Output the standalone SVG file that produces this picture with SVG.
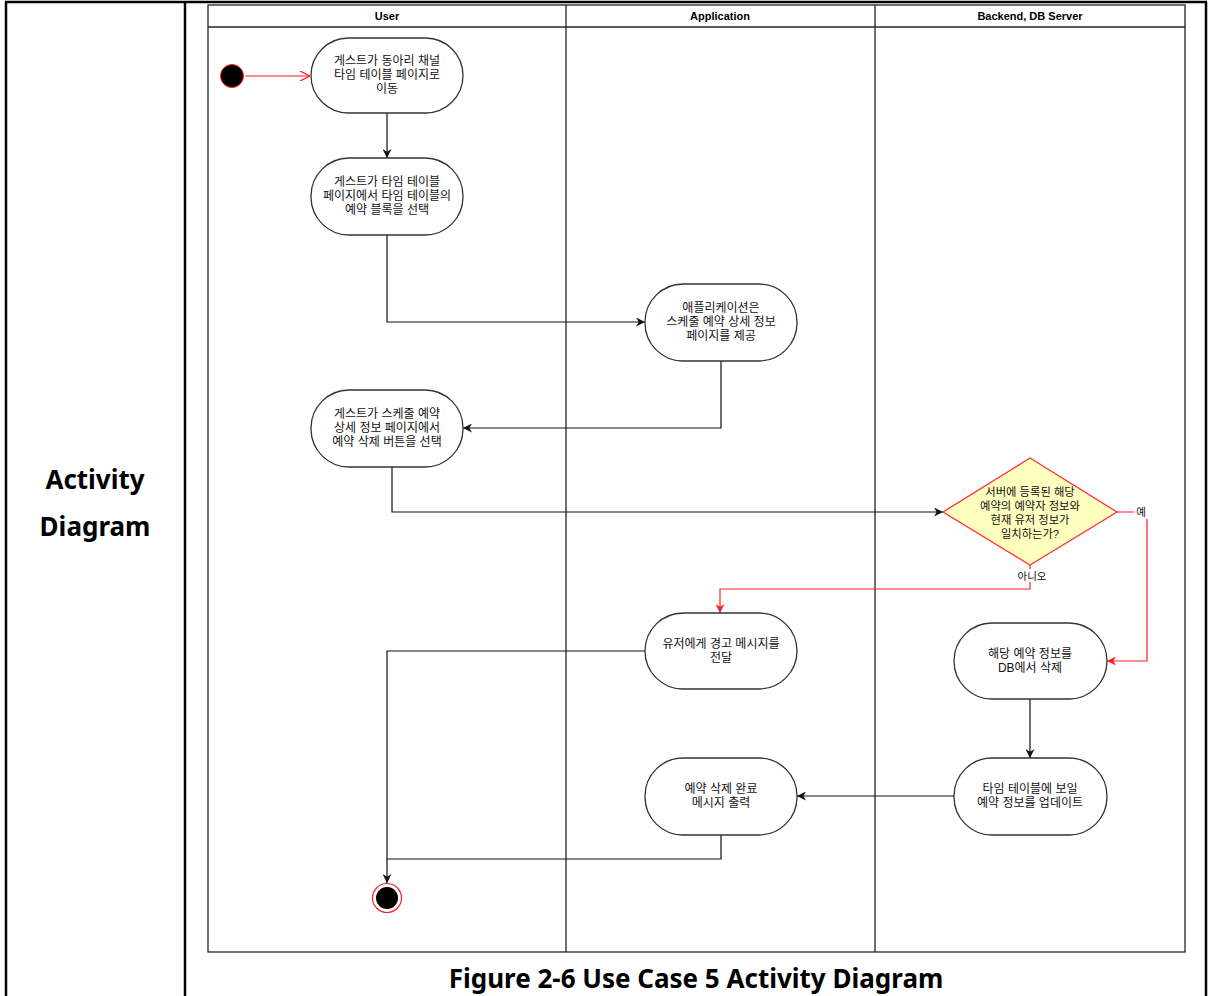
<svg xmlns="http://www.w3.org/2000/svg" width="1208" height="996" viewBox="0 0 1208 996">
  <defs>
    <style>
      .tbl { stroke: #000; stroke-width: 2.5; fill: none; }
      .lane { stroke: #222; stroke-width: 1.3; fill: none; }
      .hdr { font-family: "Liberation Sans", Arial, sans-serif; font-weight: bold; font-size: 11px; fill: #000; text-anchor: middle; }
      .act { fill: #fff; stroke: #333; stroke-width: 1.3; }
      .lbl { font-family: "Liberation Sans", "Noto Sans CJK KR", sans-serif; font-size: 12px; fill: #111; text-anchor: middle; }
      .dlbl { font-size: 11.3px; }
      .edge { fill: none; stroke: #111; stroke-width: 1.2; }
      .redge { fill: none; stroke: #ff2020; stroke-width: 1.2; }
      .side { font-family: "Noto Sans", "Open Sans", sans-serif; font-weight: bold; font-size: 26px; fill: #000; text-anchor: middle; }
      .elbl { font-family: "Liberation Sans", "Noto Sans CJK KR", sans-serif; font-size: 10.5px; fill: #111; text-anchor: middle; }
    </style>
    <marker id="arr" viewBox="0 0 10 10" refX="10" refY="5" markerWidth="9" markerHeight="9" markerUnits="userSpaceOnUse" orient="auto">
      <path d="M0,0 L10,5 L0,10 L3,5 Z" fill="#111"/>
    </marker>
    <marker id="rarr" viewBox="0 0 10 10" refX="10" refY="5" markerWidth="9" markerHeight="9" markerUnits="userSpaceOnUse" orient="auto">
      <path d="M0,0 L10,5 L0,10 L3,5 Z" fill="#ff2020"/>
    </marker>
    <marker id="ropen" viewBox="0 0 10 10" refX="10" refY="5" markerWidth="10" markerHeight="10" markerUnits="userSpaceOnUse" orient="auto">
      <path d="M0,0 L10,5 L0,10" fill="none" stroke="#ff2020" stroke-width="1.2"/>
    </marker>
  </defs>

  <rect width="1208" height="996" fill="#fff"/>

  <!-- outer table frame -->
  <g id="table">
    <line class="tbl" x1="5" y1="2" x2="1207" y2="2"/>
    <line class="tbl" x1="6" y1="2" x2="6" y2="996"/>
    <line class="tbl" x1="185" y1="2" x2="185" y2="996"/>
    <line class="tbl" x1="1206" y1="2" x2="1206" y2="996"/>
    <text class="side" x="95" y="489">Activity</text>
    <text class="side" x="95" y="536">Diagram</text>
  </g>

  <!-- swimlane pool -->
  <g id="pool">
    <rect class="lane" x="208" y="5" width="977" height="947"/>
    <line class="lane" x1="208" y1="27" x2="1185" y2="27"/>
    <line class="lane" x1="566" y1="5" x2="566" y2="952"/>
    <line class="lane" x1="875" y1="5" x2="875" y2="952"/>
    <text class="hdr" x="387" y="20">User</text>
    <text class="hdr" x="720" y="20">Application</text>
    <text class="hdr" x="1030" y="20">Backend, DB Server</text>
  </g>

  <!-- connectors -->
  <g id="connectors">
    <line class="redge" x1="245" y1="76" x2="310" y2="76" marker-end="url(#ropen)"/>
    <line class="edge" x1="387" y1="113" x2="387" y2="158" marker-end="url(#arr)"/>
    <polyline class="edge" points="387,235 387,322 645,322" marker-end="url(#arr)"/>
    <polyline class="edge" points="721,361 721,428 463,428" marker-end="url(#arr)"/>
    <polyline class="edge" points="392,467 392,512 943,512" marker-end="url(#arr)"/>
    <polyline class="redge" points="1117,512 1147,512 1147,661 1107,661" marker-end="url(#rarr)"/>
    <polyline class="redge" points="1030,564 1030,589 720,589 720,613" marker-end="url(#rarr)"/>
    <line class="edge" x1="1030" y1="699" x2="1030" y2="758" marker-end="url(#arr)"/>
    <line class="edge" x1="954" y1="796" x2="797" y2="796" marker-end="url(#arr)"/>
    <polyline class="edge" points="645,651 387,651 387,859"/>
    <polyline class="edge" points="721,835 721,859 387,859 387,883" marker-end="url(#arr)"/>
    <rect x="1134" y="506" width="14" height="13" fill="#fff"/>
    <text class="elbl" x="1141" y="516">예</text>
    <rect x="1016" y="569" width="32" height="13" fill="#fff"/>
    <text class="elbl" x="1032" y="580">아니오</text>
  </g>

  <!-- start -->
  <g id="start">
    <circle cx="232" cy="76" r="11.5" fill="#000" stroke="#ff2020" stroke-width="1"/>
  </g>

  <g id="n1">
    <rect class="act" x="311" y="38" width="152" height="75" rx="37.5"/>
    <text class="lbl"><tspan x="387" y="65">게스트가 동아리 채널</tspan><tspan x="387" y="79">타임 테이블 페이지로</tspan><tspan x="387" y="93">이동</tspan></text>
  </g>

  <g id="n2">
    <rect class="act" x="311" y="158" width="152" height="77" rx="38"/>
    <text class="lbl"><tspan x="387" y="186">게스트가 타임 테이블</tspan><tspan x="387" y="200">페이지에서 타임 테이블의</tspan><tspan x="387" y="214">예약 블록을 선택</tspan></text>
  </g>

  <g id="n3">
    <rect class="act" x="645" y="284" width="152" height="77" rx="38"/>
    <text class="lbl"><tspan x="721" y="312">애플리케이션은</tspan><tspan x="721" y="326">스케줄 예약 상세 정보</tspan><tspan x="721" y="340">페이지를 제공</tspan></text>
  </g>

  <g id="n4">
    <rect class="act" x="311" y="390" width="152" height="77" rx="38"/>
    <text class="lbl"><tspan x="387" y="418">게스트가 스케줄 예약</tspan><tspan x="387" y="432">상세 정보 페이지에서</tspan><tspan x="387" y="446">예약 삭제 버튼을 선택</tspan></text>
  </g>

  <g id="decision">
    <polygon points="1030,458 1117,512 1030,565 943,512" fill="#ffffc0" stroke="#ff3030" stroke-width="1.3"/>
    <text class="lbl dlbl"><tspan x="1030" y="496">서버에 등록된 해당</tspan><tspan x="1030" y="510">예약의 예약자 정보와</tspan><tspan x="1030" y="524">현재 유저 정보가</tspan><tspan x="1030" y="538">일치하는가?</tspan></text>
  </g>

  <g id="n5">
    <rect class="act" x="645" y="613" width="152" height="76" rx="38"/>
    <text class="lbl"><tspan x="721" y="648">유저에게 경고 메시지를</tspan><tspan x="721" y="662">전달</tspan></text>
  </g>

  <g id="n6">
    <rect class="act" x="954" y="623" width="153" height="76" rx="38"/>
    <text class="lbl"><tspan x="1030" y="658">해당 예약 정보를</tspan><tspan x="1030" y="672">DB에서 삭제</tspan></text>
  </g>

  <g id="n7">
    <rect class="act" x="954" y="758" width="153" height="77" rx="38"/>
    <text class="lbl"><tspan x="1030" y="793">타임 테이블에 보일</tspan><tspan x="1030" y="807">예약 정보를 업데이트</tspan></text>
  </g>

  <g id="n8">
    <rect class="act" x="645" y="758" width="152" height="77" rx="38"/>
    <text class="lbl"><tspan x="721" y="793">예약 삭제 완료</tspan><tspan x="721" y="807">메시지 출력</tspan></text>
  </g>

  <!-- end -->
  <g id="end">
    <circle cx="387" cy="898" r="14.5" fill="#fff" stroke="#ff2020" stroke-width="1.2"/>
    <circle cx="387" cy="898" r="11" fill="#000"/>
  </g>

  <text x="696" y="988" font-family="'Noto Sans', 'Open Sans', sans-serif" font-weight="bold" font-size="26" text-anchor="middle" fill="#000">Figure 2-6 Use Case 5 Activity Diagram</text>
</svg>
